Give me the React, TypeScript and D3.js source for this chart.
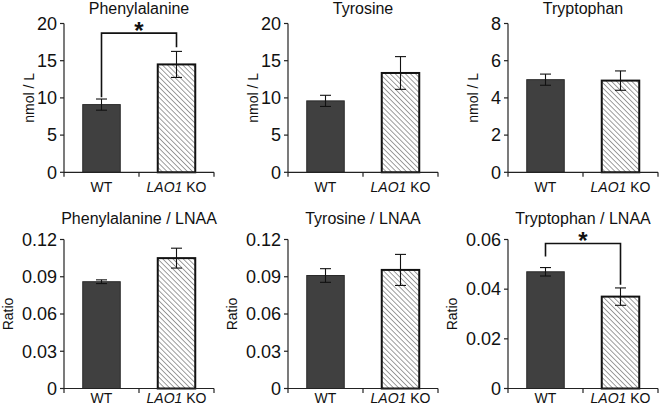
import React from "react";
import * as d3 from "d3";

// ---- Data ----
const categories = ["WT", "LAO1 KO"];
const panelTitles = [
  "Phenylalanine",
  "Tyrosine",
  "Tryptophan",
  "Phenylalanine / LNAA",
  "Tyrosine / LNAA",
  "Tryptophan / LNAA",
];
const yLabels = ["nmol / L", "nmol / L", "nmol / L", "Ratio", "Ratio", "Ratio"];
const wtMeans = [9.1, 9.6, 4.98, 0.086, 0.091, 0.047];
const wtErrors = [0.75, 0.75, 0.3, 0.0015, 0.0055, 0.0017];
const koMeans = [14.5, 13.35, 4.93, 0.105, 0.0955, 0.037];
const koErrors = [1.75, 2.2, 0.52, 0.008, 0.0125, 0.0035];
const yMaxes = [20, 20, 8, 0.12, 0.12, 0.06];
const yTicks = [
  [0, 5, 10, 15, 20],
  [0, 5, 10, 15, 20],
  [0, 2, 4, 6, 8],
  [0, 0.03, 0.06, 0.09, 0.12],
  [0, 0.03, 0.06, 0.09, 0.12],
  [0, 0.02, 0.04, 0.06],
];
// significance brackets: panel, bracket top, left leg end, right leg end
const sigPanels = [0, 5];
const sigTops = [18.7, 0.0584];
const sigLeftEnds = [10.1, 0.0532];
const sigRightEnds = [16.8, 0.0418];

// ---- Layout ----
const W = 660;
const H = 408;
const axisXs = [64, 288, 508];
const rowTops = [23.5, 239.5];
const rowBottoms = [172.3, 388.5];
const titleYs = [13.5, 223.5];
const xLabelYs = [191.5, 403.3];
const plotW = 150;
const FONT = "'Liberation Sans', Arial, Helvetica, sans-serif";

function Panel({ i }: { i: number }) {
  const row = Math.floor(i / 3);
  const col = i % 3;
  const x0 = axisXs[col];
  const top = rowTops[row];
  const bottom = rowBottoms[row];
  const y = d3.scaleLinear().domain([0, yMaxes[i]]).range([bottom, top]);
  const x = d3.scaleBand<string>().domain(categories).range([x0, x0 + plotW]).paddingInner(0.5).paddingOuter(0.25);
  const bw = x.bandwidth();
  const means = [wtMeans[i], koMeans[i]];
  const errs = [wtErrors[i], koErrors[i]];
  const isRatio = yLabels[i] === "Ratio";
  const fmt = (v: number) => (v === 0 ? "0" : String(+v.toFixed(3)));
  const sigIdx = sigPanels.indexOf(i);
  const capW = 11;
  const ticksX = [x0, x0 + plotW / 2, x0 + plotW];
  return (
    <g>
      <text x={x0 + plotW / 2} y={titleYs[row]} textAnchor="middle" fontSize={16} fontFamily={FONT} fill="#111">
        {panelTitles[i]}
      </text>
      {/* y axis */}
      <line x1={x0} x2={x0} y1={y(yMaxes[i])} y2={bottom} stroke="#222" strokeWidth={1.2} />
      {yTicks[i].map((t) => (
        <g key={t}>
          <line x1={x0 - 4} x2={x0} y1={y(t)} y2={y(t)} stroke="#222" strokeWidth={1.2} />
          <text x={x0 - 7} y={y(t)} dy="0.35em" textAnchor="end" fontSize={18} fontFamily={FONT} fill="#111">
            {fmt(t)}
          </text>
        </g>
      ))}
      <text
        transform={`translate(${x0 - (isRatio ? 51 : 30)},${(top + bottom) / 2}) rotate(-90)`}
        textAnchor="middle"
        fontSize={14}
        fontFamily={FONT}
        fill="#111"
      >
        {yLabels[i]}
      </text>
      {/* bars */}
      {categories.map((c, k) => (
        <rect
          key={c}
          x={x(c)!}
          y={y(means[k])}
          width={bw}
          height={bottom - y(means[k])}
          fill={k === 0 ? "#404040" : "url(#hatch)"}
          stroke={k === 0 ? "#2a2a2a" : "#111"}
          strokeWidth={k === 0 ? 1 : 2}
        />
      ))}
      {/* error bars */}
      {categories.map((c, k) => {
        const cx = x(c)! + bw / 2;
        return (
          <g key={c} stroke="#111" strokeWidth={1.1}>
            <line x1={cx} x2={cx} y1={y(means[k] + errs[k])} y2={y(means[k] - errs[k])} />
            <line x1={cx - capW / 2} x2={cx + capW / 2} y1={y(means[k] + errs[k])} y2={y(means[k] + errs[k])} />
            <line x1={cx - capW / 2} x2={cx + capW / 2} y1={y(means[k] - errs[k])} y2={y(means[k] - errs[k])} />
          </g>
        );
      })}
      {/* x axis */}
      <line x1={x0} x2={x0 + plotW} y1={bottom} y2={bottom} stroke="#222" strokeWidth={1.2} />
      {ticksX.map((tx) => (
        <line key={tx} x1={tx} x2={tx} y1={bottom} y2={bottom + 4.5} stroke="#222" strokeWidth={1.2} />
      ))}
      {categories.map((c) => {
        const cx = x(c)! + bw / 2;
        const parts = c.split(" ");
        return (
          <text key={c} x={cx} y={xLabelYs[row]} textAnchor="middle" fontSize={14} fontFamily={FONT} fill="#111">
            {parts.length > 1 ? (
              <>
                <tspan fontStyle="italic">{parts[0]}</tspan>
                <tspan>{" " + parts.slice(1).join(" ")}</tspan>
              </>
            ) : (
              c
            )}
          </text>
        );
      })}
      {sigIdx >= 0 && (
        <g>
          <path
            d={`M${x(categories[0])! + bw / 2},${y(sigLeftEnds[sigIdx])}V${y(sigTops[sigIdx])}H${x(categories[1])! + bw / 2}V${y(sigRightEnds[sigIdx])}`}
            fill="none"
            stroke="#111"
            strokeWidth={1.6}
          />
          <text
            x={x0 + plotW / 2}
            y={y(sigTops[sigIdx]) + 6}
            textAnchor="middle"
            fontSize={24}
            fontWeight="bold"
            fontFamily={FONT}
            fill="#111"
          >
            *
          </text>
        </g>
      )}
    </g>
  );
}

export default function App() {
  return (
    <svg
      width={W}
      height={H}
      viewBox={`0 0 ${W} ${H}`}
      style={{ position: "absolute", left: 0, top: 0, background: "#fff" }}
    >
      <defs>
        <pattern id="hatch" patternUnits="userSpaceOnUse" width={3.6} height={3.6} patternTransform="rotate(-45)">
          <rect width={3.6} height={3.6} fill="#fff" />
          <line x1={0} y1={0} x2={0} y2={3.6} stroke="#6a6a6a" strokeWidth={1.3} />
        </pattern>
      </defs>
      <rect width={W} height={H} fill="#fff" />
      {panelTitles.map((_, i) => (
        <Panel key={i} i={i} />
      ))}
    </svg>
  );
}
